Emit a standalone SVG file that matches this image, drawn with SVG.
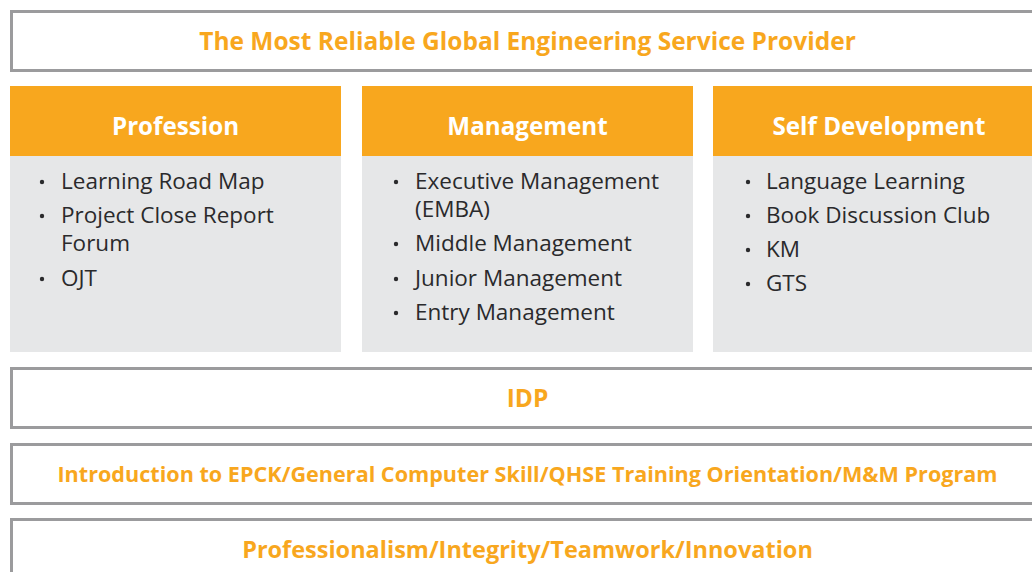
<svg xmlns="http://www.w3.org/2000/svg" width="1032" height="572" viewBox="0 0 1032 572">
<style>
.band{fill:#ffffff;stroke:#9b9b9d;stroke-width:3}
.head{fill:#f8a71e}
.body{fill:#e6e7e8}
.ot{font-family:"Open Sans","Liberation Sans",sans-serif;font-weight:bold;fill:#f8a71e;text-anchor:middle}
.ht{font-family:"Open Sans","Liberation Sans",sans-serif;font-weight:bold;fill:#ffffff;text-anchor:middle;font-size:24.2px}
.li{font-family:"Open Sans","Liberation Sans",sans-serif;fill:#2a2a2c;font-size:22.5px}
.bu{fill:#2a2a2c}
</style>
<rect width="1032" height="572" fill="#ffffff"/>
<g id="vision">
<rect class="band" x="11.5" y="11.5" width="1033" height="59"/>
<text class="ot" x="527.5" y="49.5" font-size="24.5">The Most Reliable Global Engineering Service Provider</text>
</g>
<g id="profession">
<rect class="head" x="10" y="86" width="331" height="70"/>
<rect class="body" x="10" y="156" width="331" height="196"/>
<text class="ht" x="175.5" y="135">Profession</text>
<circle class="bu" cx="42" cy="182" r="2.2"/>
<text class="li" x="61" y="189">Learning Road Map</text>
<circle class="bu" cx="42" cy="216" r="2.2"/>
<text class="li" x="61" y="223">Project Close Report</text>
<text class="li" x="61" y="251">Forum</text>
<circle class="bu" cx="42" cy="279" r="2.2"/>
<text class="li" x="61" y="286">OJT</text>
</g>
<g id="management">
<rect class="head" x="362" y="86" width="331" height="70"/>
<rect class="body" x="362" y="156" width="331" height="196"/>
<text class="ht" x="527.5" y="135">Management</text>
<circle class="bu" cx="396" cy="182" r="2.2"/>
<text class="li" x="415" y="189">Executive Management</text>
<text class="li" x="415" y="217">(EMBA)</text>
<circle class="bu" cx="396" cy="244" r="2.2"/>
<text class="li" x="415" y="251">Middle Management</text>
<circle class="bu" cx="396" cy="279" r="2.2"/>
<text class="li" x="415" y="286">Junior Management</text>
<circle class="bu" cx="396" cy="313" r="2.2"/>
<text class="li" x="415" y="320">Entry Management</text>
</g>
<g id="self-development">
<rect class="head" x="713" y="86" width="332" height="70"/>
<rect class="body" x="713" y="156" width="332" height="196"/>
<text class="ht" x="879" y="135">Self Development</text>
<circle class="bu" cx="748" cy="182" r="2.2"/>
<text class="li" x="766" y="189">Language Learning</text>
<circle class="bu" cx="748" cy="216" r="2.2"/>
<text class="li" x="766" y="223">Book Discussion Club</text>
<circle class="bu" cx="748" cy="250" r="2.2"/>
<text class="li" x="766" y="257">KM</text>
<circle class="bu" cx="748" cy="284" r="2.2"/>
<text class="li" x="766" y="291">GTS</text>
</g>
<g id="idp">
<rect class="band" x="11.5" y="368.5" width="1033" height="59"/>
<text class="ot" x="527.5" y="407" font-size="24.5">IDP</text>
</g>
<g id="orientation">
<rect class="band" x="11.5" y="444.5" width="1033" height="59"/>
<text class="ot" x="527.5" y="481.5" font-size="21.6">Introduction to EPCK/General Computer Skill/QHSE Training Orientation/M&amp;M Program</text>
</g>
<g id="values">
<rect class="band" x="11.5" y="519.5" width="1033" height="59"/>
<text class="ot" x="527.5" y="558" font-size="23.5">Professionalism/Integrity/Teamwork/Innovation</text>
</g>
<g id="connectors"/>
</svg>
